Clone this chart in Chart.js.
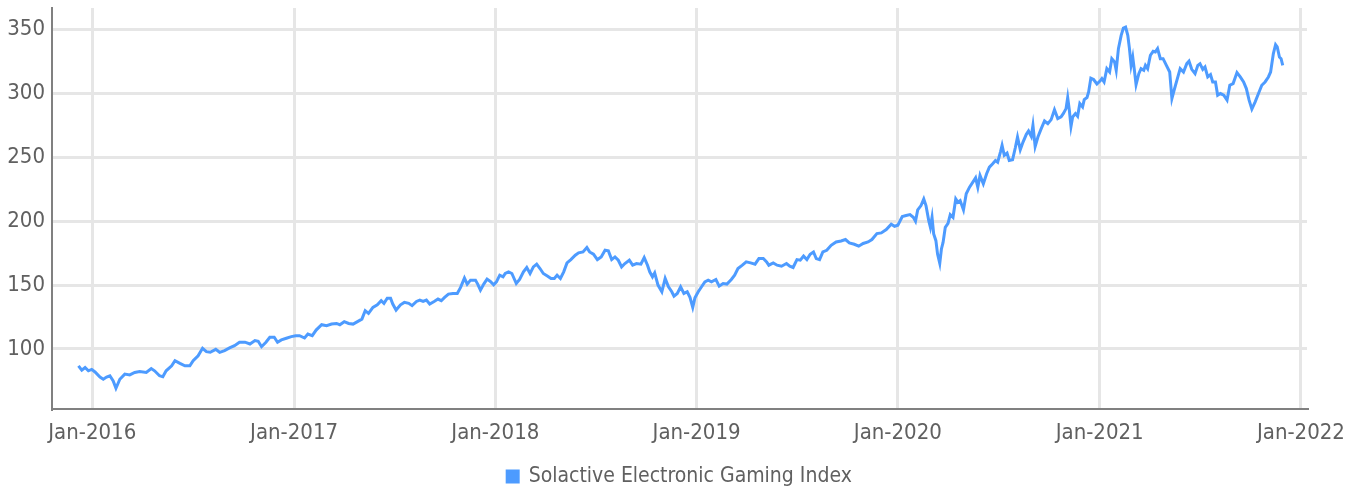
<!DOCTYPE html>
<html>
<head>
<meta charset="utf-8">
<script src="https://cdn.jsdelivr.net/npm/chart.js@4.4.0/dist/chart.umd.min.js"></script>
<style>
  html, body { margin: 0; padding: 0; background: #fff; }
  #wrap { width: 1362px; height: 493px; }
</style>
</head>
<body>
<div id="wrap"><canvas id="indexChart" width="1362" height="493"></canvas></div>
<script>
// Serie del índice (aprox. semanal)
var dates = [
  '2015-12-07','2015-12-13','2015-12-19','2015-12-25','2015-12-31','2016-01-06','2016-01-15','2016-01-21','2016-01-27','2016-02-02',
  '2016-02-08','2016-02-13','2016-02-20','2016-02-29','2016-03-09','2016-03-18','2016-03-27','2016-04-08','2016-04-17','2016-04-23',
  '2016-05-02','2016-05-08','2016-05-14','2016-05-24','2016-05-30','2016-06-08','2016-06-17','2016-06-26','2016-07-02','2016-07-11',
  '2016-07-19','2016-07-26','2016-08-02','2016-08-12','2016-08-19','2016-08-28','2016-09-06','2016-09-15','2016-09-24','2016-10-04',
  '2016-10-13','2016-10-22','2016-10-28','2016-11-03','2016-11-11','2016-11-18','2016-11-26','2016-12-02','2016-12-09','2016-12-18',
  '2016-12-27','2017-01-04','2017-01-11','2017-01-20','2017-01-26','2017-02-03','2017-02-10','2017-02-20','2017-03-01','2017-03-10',
  '2017-03-19','2017-03-25','2017-04-02','2017-04-10','2017-04-18','2017-04-26','2017-05-04','2017-05-10','2017-05-16','2017-05-24',
  '2017-06-01','2017-06-08','2017-06-13','2017-06-19','2017-06-25','2017-06-29','2017-07-05','2017-07-13','2017-07-20','2017-07-28',
  '2017-08-03','2017-08-11','2017-08-17','2017-08-23','2017-08-29','2017-09-04','2017-09-12','2017-09-19','2017-09-25','2017-10-01',
  '2017-10-08','2017-10-16','2017-10-24','2017-10-30','2017-11-06','2017-11-11','2017-11-17','2017-11-26','2017-11-30','2017-12-05',
  '2017-12-11','2017-12-17','2017-12-23','2017-12-29','2018-01-03','2018-01-09','2018-01-15','2018-01-19','2018-01-25','2018-01-31',
  '2018-02-04','2018-02-08','2018-02-14','2018-02-21','2018-02-27','2018-03-05','2018-03-11','2018-03-17','2018-03-23','2018-03-29',
  '2018-04-06','2018-04-12','2018-04-18','2018-04-23','2018-04-29','2018-05-05','2018-05-11','2018-05-18','2018-05-26','2018-06-01',
  '2018-06-09','2018-06-16','2018-06-21','2018-06-28','2018-07-05','2018-07-12','2018-07-19','2018-07-25','2018-07-31','2018-08-06',
  '2018-08-12','2018-08-18','2018-08-24','2018-09-01','2018-09-07','2018-09-14','2018-09-22','2018-09-28','2018-10-04','2018-10-08',
  '2018-10-13','2018-10-17','2018-10-23','2018-10-30','2018-11-05','2018-11-11','2018-11-17','2018-11-21','2018-11-27','2018-12-03',
  '2018-12-09','2018-12-15','2018-12-20','2018-12-25','2018-12-29','2019-01-04','2019-01-10','2019-01-16','2019-01-22','2019-01-28',
  '2019-02-05','2019-02-11','2019-02-18','2019-02-25','2019-03-05','2019-03-11','2019-03-17','2019-03-25','2019-04-01','2019-04-09',
  '2019-04-17','2019-04-24','2019-05-02','2019-05-08','2019-05-12','2019-05-20','2019-05-27','2019-06-04','2019-06-13','2019-06-19',
  '2019-06-25','2019-07-02','2019-07-08','2019-07-14','2019-07-20','2019-07-26','2019-08-01','2019-08-06','2019-08-12','2019-08-18',
  '2019-08-25','2019-09-02','2019-09-11','2019-09-20','2019-09-28','2019-10-05','2019-10-14','2019-10-22','2019-10-30','2019-11-08',
  '2019-11-15','2019-11-24','2019-12-02','2019-12-11','2019-12-20','2019-12-26','2020-01-01','2020-01-09','2020-01-16','2020-01-23',
  '2020-01-29','2020-02-02','2020-02-06','2020-02-12','2020-02-17','2020-02-21','2020-02-26','2020-02-29','2020-03-03','2020-03-06',
  '2020-03-10','2020-03-13','2020-03-17','2020-03-20','2020-03-23','2020-03-27','2020-04-01','2020-04-05','2020-04-10','2020-04-15',
  '2020-04-19','2020-04-23','2020-04-29','2020-05-04','2020-05-10','2020-05-16','2020-05-21','2020-05-25','2020-05-29','2020-06-04',
  '2020-06-10','2020-06-15','2020-06-21','2020-06-26','2020-06-30','2020-07-05','2020-07-08','2020-07-12','2020-07-17','2020-07-21',
  '2020-07-27','2020-08-01','2020-08-05','2020-08-10','2020-08-15','2020-08-21','2020-08-25','2020-08-30','2020-09-02','2020-09-06',
  '2020-09-11','2020-09-17','2020-09-23','2020-09-29','2020-10-05','2020-10-11','2020-10-17','2020-10-23','2020-10-27','2020-11-01',
  '2020-11-04','2020-11-07','2020-11-10','2020-11-13','2020-11-18','2020-11-22','2020-11-26','2020-12-01','2020-12-04','2020-12-09',
  '2020-12-12','2020-12-16','2020-12-21','2020-12-27','2021-01-02','2021-01-05','2021-01-09','2021-01-14','2021-01-19','2021-01-23',
  '2021-01-28','2021-01-31','2021-02-04','2021-02-09','2021-02-13','2021-02-17','2021-02-21','2021-02-24','2021-02-27','2021-03-02',
  '2021-03-05','2021-03-08','2021-03-13','2021-03-17','2021-03-22','2021-03-25','2021-03-29','2021-04-03','2021-04-08','2021-04-12',
  '2021-04-16','2021-04-21','2021-04-26','2021-05-02','2021-05-08','2021-05-12','2021-05-16','2021-05-21','2021-05-27','2021-06-02',
  '2021-06-08','2021-06-12','2021-06-17','2021-06-23','2021-06-28','2021-07-02','2021-07-07','2021-07-11','2021-07-16','2021-07-21',
  '2021-07-25','2021-07-30','2021-08-03','2021-08-08','2021-08-14','2021-08-20','2021-08-25','2021-08-31','2021-09-07','2021-09-13',
  '2021-09-19','2021-09-24','2021-09-29','2021-10-04','2021-10-10','2021-10-16','2021-10-22','2021-10-28','2021-11-03','2021-11-07',
  '2021-11-12','2021-11-16','2021-11-19','2021-11-23','2021-11-26','2021-11-29'
];
var values = [
  86.8, 83.4, 85.5, 82.9, 84.0, 82.0, 78.0, 76.3, 78.0, 79.0,
  75.0, 69.2, 76.3, 80.3, 79.7, 81.6, 82.4, 81.6, 84.7, 82.9,
  79.0, 78.2, 82.9, 86.8, 90.8, 88.7, 86.8, 86.8, 90.8, 94.7,
  100.5, 97.9, 97.4, 99.7, 97.4, 98.7, 100.8, 102.6, 105.3, 105.3,
  103.9, 106.6, 106.0, 101.8, 105.3, 109.2, 109.2, 105.3, 107.1, 108.4,
  109.7, 110.4, 110.4, 108.6, 111.7, 110.4, 114.8, 119.0, 118.2, 119.5,
  120.0, 119.0, 121.4, 120.0, 119.5, 121.4, 123.4, 130.0, 127.9, 132.6,
  134.6, 137.8, 135.7, 139.8, 139.8, 135.2, 130.5, 134.6, 136.5, 135.7,
  133.9, 137.2, 138.3, 137.2, 138.3, 135.2, 137.2, 139.1, 137.8, 140.4,
  143.0, 143.5, 143.5, 148.2, 155.5, 150.8, 153.9, 153.9, 150.8, 146.1,
  150.8, 154.7, 152.9, 150.3, 152.6, 157.8, 156.5, 159.1, 160.4, 159.1,
  155.2, 151.3, 154.4, 160.4, 163.8, 159.1, 164.3, 166.4, 163.0, 159.1,
  157.0, 155.2, 155.2, 157.8, 155.2, 160.4, 167.4, 170.0, 173.4, 175.3,
  176.0, 179.4, 176.0, 174.2, 170.0, 172.1, 177.3, 176.8, 170.0, 172.1,
  169.5, 164.3, 166.9, 169.5, 165.6, 166.9, 166.4, 171.6, 165.6, 160.4,
  156.5, 159.6, 150.0, 144.8, 155.2, 148.7, 144.8, 141.4, 143.5, 148.7,
  143.5, 144.8, 140.4, 132.6, 140.0, 144.8, 148.7, 152.6, 153.9, 152.6,
  154.4, 149.2, 151.3, 150.8, 154.4, 157.8, 163.0, 165.6, 168.2, 167.4,
  166.4, 170.8, 170.8, 168.2, 165.6, 167.4, 165.6, 164.8, 166.9, 164.8,
  163.8, 170.0, 169.5, 172.7, 170.0, 174.2, 176.0, 170.8, 170.0, 176.0,
  177.3, 181.2, 183.8, 184.6, 185.7, 183.1, 182.0, 180.5, 182.6, 183.8,
  185.7, 190.4, 190.9, 193.5, 197.7, 196.1, 196.9, 203.7, 204.5, 205.2,
  203.1, 200.0, 208.9, 212.3, 217.5, 212.3, 200.5, 195.3, 203.1, 190.0,
  184.8, 174.3, 167.0, 178.3, 183.5, 195.3, 198.4, 205.2, 203.1, 217.5,
  214.9, 216.2, 208.9, 221.5, 226.7, 230.6, 234.0, 226.7, 235.9, 229.3,
  237.2, 242.4, 245.0, 247.6, 246.3, 254.2, 259.4, 251.6, 253.4, 247.6,
  248.2, 257.6, 266.0, 256.0, 262.0, 268.1, 270.7, 266.5, 275.1, 258.6,
  266.0, 272.5, 278.5, 276.4, 279.6, 287.4, 280.4, 281.7, 284.3, 288.2,
  296.9, 286.9, 274.3, 281.7, 284.3, 282.2, 292.2, 289.5, 295.3, 296.9,
  301.3, 312.0, 311.0, 307.5, 310.0, 311.7, 309.1, 319.5, 316.9, 327.3,
  324.7, 318.2, 335.2, 345.6, 351.3, 352.1, 345.6, 335.2, 322.1, 328.6,
  318.2, 307.0, 315.6, 319.5, 318.2, 322.1, 319.5, 330.0, 333.1, 332.6,
  335.2, 327.3, 327.3, 322.1, 316.9, 296.1, 302.6, 310.4, 319.5, 316.9,
  323.4, 325.3, 319.0, 315.6, 322.1, 323.4, 319.0, 320.8, 313.0, 314.8,
  309.1, 309.1, 298.7, 300.0, 298.7, 294.8, 306.5, 307.8, 316.4, 313.0,
  309.1, 303.9, 294.8, 287.8, 293.5, 300.0, 306.5, 309.1, 313.0, 316.9,
  331.3, 338.3, 336.5, 328.6, 327.3, 322.1
];
var yearTicks = [2016, 2017, 2018, 2019, 2020, 2021, 2022];
var valueTicks = [100, 150, 200, 250, 300, 350];
var seriesName = 'Solactive Electronic Gaming Index';

var FONT = '"Liberation Sans Narrow", "DejaVu Sans Condensed", Roboto, sans-serif';
var TEXT = '#606060';
var BLUE = '#4d9bff';

var points = dates.map(function(d, i) { return { x: Date.parse(d), y: values[i] }; });

new Chart(document.getElementById('indexChart'), {
    type: 'line',
    data: {
        datasets: [{
            label: seriesName,
            data: points,
            borderColor: BLUE,
            backgroundColor: BLUE,
            borderWidth: 3,
            pointRadius: 0,
            tension: 0
        }]
    },
    options: {
        responsive: false,
        animation: false,
        devicePixelRatio: 1,
        layout: { padding: { left: 0, right: 55, top: 8, bottom: -4 } },
        plugins: {
            legend: {
                position: 'bottom',
                fullSize: false,
                labels: {
                    font: { family: FONT, size: 21 },
                    color: TEXT,
                    boxWidth: 11,
                    boxHeight: 11,
                    padding: 0
                }
            },
            tooltip: { enabled: false }
        },
        scales: {
            x: {
                type: 'linear',
                min: Date.UTC(2015, 9, 20),
                max: Date.UTC(2022, 0, 12),
                afterBuildTicks: function(scale) {
                    scale.ticks = yearTicks.map(function(y) { return { value: Date.UTC(y, 0, 1) }; });
                },
                afterFit: function(scale) { scale.height = 57; },
                ticks: {
                    callback: function(v) { return 'Jan-' + new Date(v).getUTCFullYear(); },
                    font: { family: FONT, size: 22 },
                    color: TEXT,
                    padding: 11,
                    maxRotation: 0,
                    autoSkip: false
                },
                grid: { color: '#e6e6e6', lineWidth: 3, drawTicks: false },
                border: { color: '#808080', width: 2 }
            },
            y: {
                min: 53,
                max: 367,
                afterBuildTicks: function(scale) {
                    scale.ticks = valueTicks.map(function(v) { return { value: v }; });
                },
                afterFit: function(scale) {
                    // ancho fijo del eje y sin relleno extra arriba/abajo
                    scale.width = 52;
                    scale.paddingTop = 0;
                    scale.paddingBottom = 0;
                },
                ticks: {
                    font: { family: FONT, size: 22 },
                    color: TEXT,
                    padding: 7
                },
                grid: { color: '#e6e6e6', lineWidth: 3, drawTicks: false },
                border: { color: '#808080', width: 2 }
            }
        }
    }
});
</script>
</body>
</html>
